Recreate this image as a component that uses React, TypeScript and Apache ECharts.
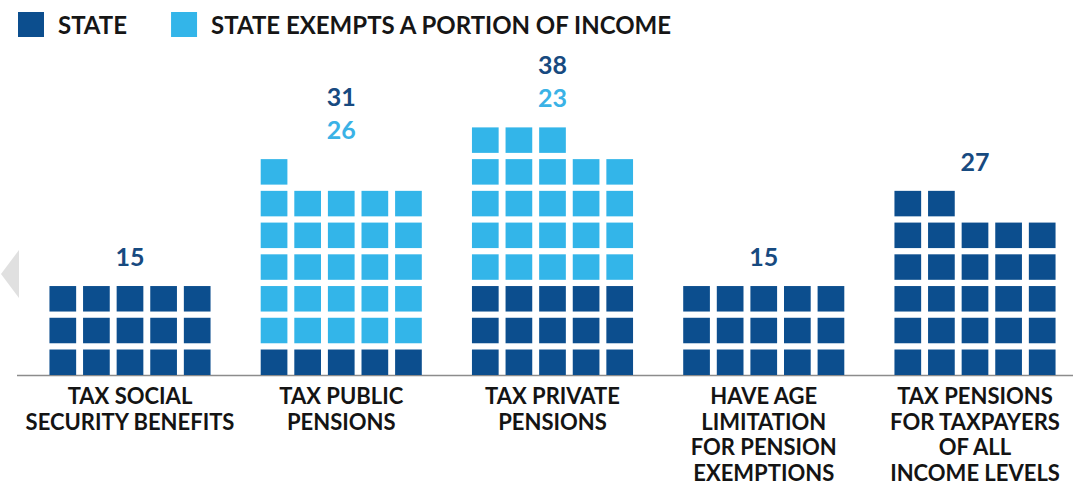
import React, { useEffect, useRef } from "react";
import * as echarts from "echarts";

const categories = [
  "TAX SOCIAL\nSECURITY BENEFITS",
  "TAX PUBLIC\nPENSIONS",
  "TAX PRIVATE\nPENSIONS",
  "HAVE AGE\nLIMITATION\nFOR PENSION\nEXEMPTIONS",
  "TAX PENSIONS\nFOR TAXPAYERS\nOF ALL\nINCOME LEVELS",
];
// squares shown in dark blue (state taxes fully)
const stateCounts = [15, 5, 15, 15, 27];
// squares shown in light blue (state exempts a portion of income)
const exemptCounts = [0, 26, 23, 0, 0];

const seriesNames = ["STATE", "STATE EXEMPTS A PORTION OF INCOME"];

const DARK = "#0c4e8e";
const LIGHT = "#33b5e9";
const DARK_TEXT = "#174a80";
const LIGHT_TEXT = "#3ab2e6";
const SQ_W = 26.7;
const SQ_H = 25.5;
const PITCH_X = 33.6;
const PER_ROW = 5;
const FONT = "Lato, 'Noto Sans', sans-serif";

export default function App() {
  const ref = useRef<HTMLDivElement>(null);
  useEffect(() => {
    if (!ref.current) return;
    const chart = echarts.init(ref.current, null, { renderer: "svg" });
    const data = categories.map((_, i) => [i, stateCounts[i], exemptCounts[i]]);

    const renderItem = (params: any, api: any) => {
      const ci = api.value(0);
      const dark = api.value(1);
      const light = api.value(2);
      const total = dark + light;
      const base = api.coord([ci, 0]);
      const cx = base[0];
      const y0 = base[1];
      const rowPitch = api.size([0, 1])[1];
      const children: any[] = [];
      for (let n = 0; n < total; n++) {
        const col = n % PER_ROW;
        const row = Math.floor(n / PER_ROW);
        const x = cx + (col - 2) * PITCH_X - SQ_W / 2;
        const yb = y0 - row * rowPitch;
        children.push({
          type: "rect",
          shape: { x, y: yb - SQ_H, width: SQ_W, height: SQ_H },
          style: { fill: n < dark ? DARK : LIGHT },
        });
      }
      const rows = Math.ceil(total / PER_ROW);
      const top = y0 - (rows - 1) * rowPitch - SQ_H;
      let ly = top - 30;
      if (light > 0) {
        children.push({
          type: "text",
          style: {
            x: cx,
            y: ly,
            text: String(light),
            fill: LIGHT_TEXT,
            font: `bold 25px ${FONT}`,
            textAlign: "center",
            textVerticalAlign: "middle",
          },
        });
        ly -= 33;
      }
      children.push({
        type: "text",
        style: {
          x: cx,
          y: ly,
          text: String(total),
          fill: DARK_TEXT,
          font: `bold 25px ${FONT}`,
          textAlign: "center",
          textVerticalAlign: "middle",
        },
      });
      return { type: "group", children };
    };

    chart.setOption({
      animation: false,
      backgroundColor: "#ffffff",
      legend: {
        left: 18,
        top: 12,
        padding: 0,
        icon: "rect",
        itemWidth: 26,
        itemHeight: 25,
        itemGap: 44,
        selectedMode: false,
        data: seriesNames,
        textStyle: {
          fontFamily: FONT,
          fontWeight: "bold",
          fontSize: 24,
          color: "#161616",
          padding: [0, 0, 0, 9],
        },
      },
      grid: { left: 130, width: 845, top: 57.7, bottom: 109.3 },
      xAxis: {
        type: "category",
        data: categories,
        boundaryGap: false,
        axisLine: { show: false },
        axisTick: { show: false },
        splitLine: { show: false },
        axisLabel: {
          interval: 0,
          margin: 8,
          fontFamily: FONT,
          fontWeight: "bold",
          fontSize: 22,
          lineHeight: 25.5,
          color: "#141414",
        },
      },
      yAxis: {
        type: "value",
        min: 0,
        max: 10,
        show: false,
      },
      series: [
        {
          name: seriesNames[0],
          type: "custom",
          renderItem,
          data,
          encode: { x: 0, y: 1 },
          itemStyle: { color: DARK },
          clip: false,
          z: 2,
        },
        {
          name: seriesNames[1],
          type: "custom",
          renderItem: () => ({ type: "group", children: [] }),
          data: [],
          itemStyle: { color: LIGHT },
        },
      ],
      graphic: [
        {
          type: "line",
          shape: { x1: 17, y1: 375.5, x2: 1073, y2: 375.5 },
          style: { stroke: "#8c8c8c", lineWidth: 1.5 },
          z: 1,
        },
        {
          type: "polygon",
          shape: { points: [[19, 250], [19, 298], [1, 274]] },
          style: { fill: "#e0e0e0" },
        },
      ],
    });
    return () => chart.dispose();
  }, []);
  return (
    <div
      ref={ref}
      style={{ position: "absolute", left: 0, top: 0, width: 1073, height: 485, background: "#fff" }}
    />
  );
}
